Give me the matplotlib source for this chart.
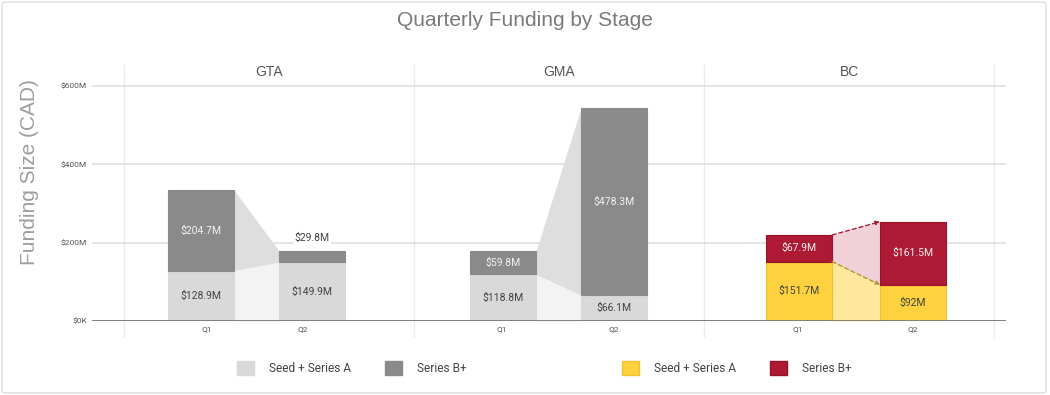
import matplotlib
matplotlib.use("Agg")
import matplotlib.pyplot as plt
from matplotlib.patches import Patch, FancyBboxPatch
import matplotlib.transforms as mtransforms

# ---------------- data ----------------
regions = ["GTA", "GMA", "BC"]
quarters = ["Q1", "Q2"]
seed_gta = [128.9, 149.9]
seriesb_gta = [204.7, 29.8]
seed_gma = [118.8, 66.1]
seriesb_gma = [59.8, 478.3]
seed_bc = [151.7, 92.0]
seriesb_bc = [67.9, 161.5]
y_ticks = [0, 200, 400, 600]
y_tick_labels = ["$0K", "$200M", "$400M", "$600M"]
legend_labels = ["Seed + Series A", "Series B+"]
title = "Quarterly Funding by Stage"
y_title = "Funding Size (CAD)"

seed_all = [seed_gta, seed_gma, seed_bc]
b_all = [seriesb_gta, seriesb_gma, seriesb_bc]

# ---------------- style / layout ----------------
plt.rcParams["font.family"] = ["Roboto", "DejaVu Sans"]
head_font = ["Liberation Sans", "DejaVu Sans"]
W, H = 1050, 395
fig = plt.figure(figsize=(W / 100, H / 100), dpi=100)


def fx(px):
    return px / W


def fy(py):
    return 1 - py / H


ax_left, ax_right, ax_top, ax_bot = 92, 1006, 65, 321
ax = fig.add_axes([fx(ax_left), fy(ax_bot), (ax_right - ax_left) / W, (ax_bot - ax_top) / H])
panel_x0, panel_w = 124, 290
ax.set_xlim((ax_left - panel_x0) / panel_w, (ax_right - panel_x0) / panel_w)
px_per_unit = 235 / 600
ax.set_ylim(0, (ax_bot - ax_top) / px_per_unit)

bar_offsets = [(0.266, 0.648), (0.307, 0.690), (0.328, 0.721)]
tick_offsets = [(0.286, 0.617), (0.303, 0.690), (0.324, 0.721)]
bar_w = 66 / panel_w

gray_style = dict(seed="#d9d9d9", b="#8a8a8a", seed_edge="#d9d9d9", b_edge="#8a8a8a",
                  seed_conn="#f3f3f3", b_conn="#dedede", line=None)
bc_style = dict(seed="#fdd23e", b="#ae1a34", seed_edge="#f2c22e", b_edge="#951429",
                seed_conn="#ffe79c", b_conn="#f0d1d7", line=("#a61d37", "#b8952a"))
styles = [gray_style, gray_style, bc_style]

dark_txt = "#424242"
light_txt = "#f2f2f2"

ax.set_axisbelow(True)
ax.yaxis.grid(True, color="#dcdcdc", lw=1.1)
ax.xaxis.grid(False)
for s in ax.spines.values():
    s.set_visible(False)
ax.axhline(0, color="#777777", lw=1.3, zorder=5)

# panel separators
for i in range(4):
    ax.axvline(i, ymin=-0.0625, ymax=1, color="#ececec", lw=1, clip_on=False, zorder=0)

blend = mtransforms.blended_transform_factory(ax.transData, ax.transAxes)
xt, xtl = [], []
for i, reg in enumerate(regions):
    st = styles[i]
    seeds = seed_all[i]
    bs = b_all[i]
    tots = [s + b for s, b in zip(seeds, bs)]
    cx = [i + o for o in bar_offsets[i]]
    # connectors
    x1 = cx[0] + bar_w / 2
    x2 = cx[1] - bar_w / 2
    ax.fill_between([x1, x2], [0, 0], seeds, color=st["seed_conn"], lw=0, zorder=1)
    ax.fill_between([x1, x2], seeds, tots, color=st["b_conn"], lw=0, zorder=1)
    if st["line"]:
        for yv, c in ((tots, st["line"][0]), (seeds, st["line"][1])):
            ax.annotate("", xy=(x2, yv[1]), xytext=(x1, yv[0]),
                        arrowprops=dict(arrowstyle="-|>", linestyle=(0, (3, 2)), color=c,
                                        lw=1, mutation_scale=6, shrinkA=0, shrinkB=0),
                        zorder=3)
    # bars
    ax.bar(cx, seeds, width=bar_w, color=st["seed"], edgecolor=st["seed_edge"], lw=0.8, zorder=2)
    ax.bar(cx, bs, bottom=seeds, width=bar_w, color=st["b"], edgecolor=st["b_edge"], lw=0.8, zorder=2)
    # labels
    for j in range(2):
        ax.text(cx[j], seeds[j] / 2, f"${seeds[j]:g}M", ha="center", va="center",
                fontsize=7.5, color=dark_txt, zorder=6)
        if bs[j] >= 45:
            ax.text(cx[j], seeds[j] + bs[j] / 2, f"${bs[j]:g}M", ha="center", va="center",
                    fontsize=7.5, color=light_txt, zorder=6)
        else:
            ax.annotate(f"${bs[j]:g}M", xy=(cx[j], tots[j]), xytext=(0, 9),
                        textcoords="offset points", ha="center", va="center",
                        fontsize=7.5, color=dark_txt, zorder=6,
                        bbox=dict(fc="white", ec="none", pad=1))
    # panel title
    ax.text(i + 0.5, (ax_bot - 72) / (ax_bot - ax_top), reg, transform=blend,
            ha="center", va="center", fontsize=10, color="#555555", family=head_font)
    for j in range(2):
        xt.append(i + tick_offsets[i][j])
        xtl.append(quarters[j])

ax.set_yticks(y_ticks, y_tick_labels)
ax.set_xticks(xt, xtl)
ax.tick_params(axis="y", length=0, pad=3.6, labelsize=6, labelcolor="#555555")
ax.tick_params(axis="x", length=0, pad=3.6, labelsize=6, labelcolor="#555555")

# titles
fig.text(0.5, fy(20), title, ha="center", va="center", fontsize=15, color="#7a7a7a",
         family=head_font)
fig.text(fx(30), fy(172), y_title, ha="center", va="center", rotation=90,
         fontsize=15, color="#9e9e9e", family=head_font)

# legends
for st, cxp in ((gray_style, 352), (bc_style, 737)):
    handles = [Patch(facecolor=st["seed"], edgecolor=st["seed_edge"]),
               Patch(facecolor=st["b"], edgecolor=st["b_edge"])]
    fig.legend(handles, legend_labels, loc="center", bbox_to_anchor=(fx(cxp), fy(368)),
               ncol=2, frameon=False, fontsize=8.6, labelcolor="#444444",
               handlelength=1.4, handleheight=1.4, handletextpad=1.3,
               columnspacing=2.8, borderpad=0)

# outer border
fig.patches.append(FancyBboxPatch((fx(2), fy(393)), 1044 / W, 391 / H,
                                  boxstyle="round,pad=0,rounding_size=0.004",
                                  transform=fig.transFigure, fc="none", ec="#dddddd", lw=1))

fig.savefig("out.png", dpi=100)
